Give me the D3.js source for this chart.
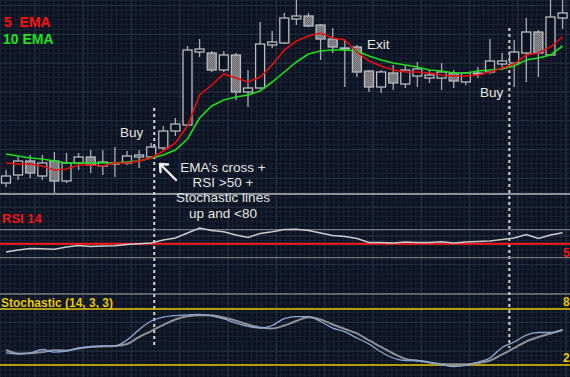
<!DOCTYPE html>
<html>
<head>
<meta charset="utf-8">
<script src="https://cdn.jsdelivr.net/npm/d3@7/dist/d3.min.js"></script>
<style>
  body { margin: 0; background: #0b1220; overflow: hidden; }
  svg { display: block; }
</style>
</head>
<body>
<svg id="chart"></svg>
<script>
// price in points, one value per bar
const candleOpen  = [17,25,39,24,39,19,37,43,34,36,37,43,43,52,69,75,148,147,130,145,108,112,155,157,181,184,175,161,152,153,129,113,127,116,124,122,122,127,118,126,128,136,137,147,168,145,182];
const candleHigh  = [30,43,45,45,48,47,47,50,50,53,49,50,57,74,82,154,161,149,149,147,130,178,169,187,200,187,176,172,160,155,130,130,135,135,138,130,137,130,128,133,161,147,160,182,170,200,200];
const candleLow   = [13,20,22,20,7,17,30,27,25,23,35,32,42,50,64,74,143,128,128,100,93,111,152,156,175,173,140,147,113,123,108,107,110,112,113,117,110,112,115,122,126,130,113,118,123,145,171];
const candleClose = [24,39,27,37,19,37,43,35,38,37,44,45,53,69,76,150,151,130,145,108,112,156,158,182,184,174,161,153,152,128,113,128,117,130,131,125,128,119,127,127,139,139,148,168,147,183,187];

const ema5  = [37,36,36,34,30,31,35,35,34,37,37,39,42,49,57,74,105,115,126,122,118,123,135,150,159,164,167,162,160,148,139,134,130,128,128,127,125,124,124,125,128,132,136,145,147,153,163];
const ema10 = [46,44,42,41,39,37,37,37,37,37,38,39,42,45,50,61,82,94,100,103,105,109,118,128,138,146,149,150,150,149,144,140,137,135,133,130,129,127,127,129,130,131,134,140,142,145,154];

const rsi14 = [38.1,41,43.1,42.7,42,45.3,47.4,46,46.7,47,48.9,49.8,51,55.3,58.1,65.3,72.4,68.9,67,62.4,58.9,64.6,67.1,70.3,70.6,68.9,65.3,61.7,60.3,57.4,51.7,51.7,51,52.4,51.7,51.7,52.9,51,52.4,53.1,53.9,56,58.1,63.1,57.4,62.4,65.7];
const rsiLevels = [70, 50, 30];

const stochMain   = [32.9,31.8,32.9,36.6,33.9,35,38.2,39.8,40.4,40.4,46.8,57.9,67.1,71.4,73,73.6,74.3,72.7,69.3,65,61.5,59.6,62.3,69.8,71.8,71.8,66.6,59.6,55.7,48.9,42.5,33.9,27.5,24.8,24.8,22.7,20.5,18.4,19.5,23.2,27.5,38.8,44.6,52.1,54.8,54.8,58];
const stochSignal = [36.1,32.3,32.5,33.9,35.9,35.5,37.7,39.3,40,40.4,42.5,50,56.4,62.9,68.8,72.2,73.3,73.3,70.9,67.4,63.4,60.2,59.1,62.3,67.1,71.1,68.8,63.4,58.6,53.8,46.3,39.3,32.3,26.6,24.6,22.7,21.1,20.8,20.8,22.1,24.8,31.3,38.2,45.2,50,53.8,57.5];
const stochLevels = [80, 20];

// signals: bar position and price where the dashed marker starts
const buySignals = [{ bar: 12.25, price: 92 }, { bar: 41.6, price: 172 }];

const noteLines = ["EMA\u2019s cross +", "RSI >50 +", "Stochastic lines", "up and <80"];

function drawChart() {
    const width = 570;
    const height = 377;
    const svg = d3.select("#chart").attr("width", width).attr("height", height);

    const x = d3.scaleLinear().domain([0, candleOpen.length - 1]).range([6, 562.6]);
    const yMain = d3.scaleLinear().domain([0, 200]).range([200, 0]);
    const yRsi = d3.scaleLinear().domain([30, 70]).range([257.7, 229.7]);
    const ySto = d3.scaleLinear().domain([20, 80]).range([365, 309]);

    const defs = svg.append("defs");
    // fine background mesh
    const mesh = defs.append("pattern").attr("id", "mesh")
        .attr("width", 4.83).attr("height", 4.8).attr("patternUnits", "userSpaceOnUse");
    mesh.append("rect").attr("width", 4.83).attr("height", 4.8).attr("fill", "#0b1220");
    mesh.append("path").attr("d", "M0,0.5H4.83M0.5,0V4.8")
        .attr("stroke", "#172133").attr("stroke-width", 1);

    const grain = defs.append("pattern").attr("id", "grain")
        .attr("width", 2).attr("height", 2).attr("patternUnits", "userSpaceOnUse");
    grain.append("rect").attr("width", 2).attr("height", 2).attr("fill", "#6f7074");
    grain.append("rect").attr("width", 1).attr("height", 1).attr("fill", "#8d8e92");
    grain.append("rect").attr("x", 1).attr("y", 1).attr("width", 1).attr("height", 1).attr("fill", "#86878b");

    defs.append("clipPath").attr("id", "mainClip")
        .append("rect").attr("width", width).attr("height", 193);

    svg.append("rect").attr("width", width).attr("height", height).attr("fill", "url(#mesh)");

    // major grid
    const grid = svg.append("g").attr("stroke", "#263043").attr("stroke-width", 1);
    grid.selectAll("line.v").data(d3.range(35, width, 48.3)).join("line")
        .attr("x1", d => d).attr("x2", d => d).attr("y1", 0).attr("y2", height);
    grid.selectAll("line.h").data(d3.range(5.6, height, 28.8)).join("line")
        .attr("x1", 0).attr("x2", width).attr("y1", d => d).attr("y2", d => d);

    // panel borders
    svg.append("line").attr("x1", 0).attr("x2", width).attr("y1", 194).attr("y2", 194)
        .attr("stroke", "#8a8f98").attr("stroke-width", 2);
    svg.append("line").attr("x1", 0).attr("x2", width).attr("y1", 294).attr("y2", 294)
        .attr("stroke", "#747a84").attr("stroke-width", 1.5);

    // dashed buy markers
    svg.append("g").selectAll("line").data(buySignals).join("line")
        .attr("x1", d => x(d.bar)).attr("x2", d => x(d.bar))
        .attr("y1", d => yMain(d.price)).attr("y2", 348)
        .attr("stroke", "#d4d4d4").attr("stroke-width", 2).attr("stroke-dasharray", "3,3");

    // candles
    const main = svg.append("g").attr("clip-path", "url(#mainClip)");
    const bars = candleOpen.map((o, i) => ({ i: i, o: o, h: candleHigh[i], l: candleLow[i], c: candleClose[i] }));

    main.append("g").selectAll("line").data(bars).join("line")
        .attr("x1", d => x(d.i)).attr("x2", d => x(d.i))
        .attr("y1", d => yMain(d.h)).attr("y2", d => yMain(d.l))
        .attr("stroke", "#a9abb0").attr("stroke-width", 1.3);

    main.append("g").selectAll("rect").data(bars).join("rect")
        .attr("x", d => x(d.i) - 4.5)
        .attr("width", 9)
        .attr("y", d => yMain(Math.max(d.o, d.c)))
        .attr("height", d => Math.max(1, Math.abs(yMain(d.o) - yMain(d.c))))
        .attr("fill", d => d.c >= d.o ? "#0b1220" : "url(#grain)")
        .attr("stroke", "#b9bbc0").attr("stroke-width", 1.3);

    // moving averages
    const lineMain = d3.line().x((d, i) => x(i)).y(d => yMain(d));
    main.append("path").datum(ema10).attr("d", lineMain)
        .attr("fill", "none").attr("stroke", "#1fdc1f").attr("stroke-width", 1.6);
    main.append("path").datum(ema5).attr("d", lineMain)
        .attr("fill", "none").attr("stroke", "#e80c0c").attr("stroke-width", 1.6);

    // legend
    svg.append("text").attr("x", 4).attr("y", 27).text("5  EMA")
        .style("white-space", "pre")
        .attr("fill", "#ff1010").attr("font-family", "Liberation Sans, Arial, sans-serif")
        .attr("font-weight", "bold").attr("font-size", 14);
    svg.append("text").attr("x", 3).attr("y", 44).text("10 EMA")
        .attr("fill", "#22e022").attr("font-family", "Liberation Sans, Arial, sans-serif")
        .attr("font-weight", "bold").attr("font-size", 14);

    // RSI panel
    svg.append("g").selectAll("line").data(rsiLevels).join("line")
        .attr("x1", 0).attr("x2", width)
        .attr("y1", d => yRsi(d)).attr("y2", d => yRsi(d))
        .attr("stroke", d => d === 50 ? "#ff1c1c" : "#8c8f95")
        .attr("stroke-width", d => d === 50 ? 2 : 1);

    const lineRsi = d3.line().x((d, i) => x(i)).y(d => yRsi(d));
    svg.append("path").datum(rsi14).attr("d", lineRsi)
        .attr("fill", "none").attr("stroke", "#c8cacf").attr("stroke-width", 1.5);

    svg.append("text").attr("x", 2).attr("y", 223).text("RSI 14")
        .attr("fill", "#f01414").attr("font-family", "Liberation Sans, Arial, sans-serif")
        .attr("font-weight", "bold").attr("font-size", 13);
    // level labels sit half outside the right edge, as on the terminal
    svg.append("text").attr("x", 563).attr("y", yRsi(50) + 13).text("50")
        .attr("fill", "#f01414").attr("font-family", "Liberation Sans, Arial, sans-serif")
        .attr("font-weight", "bold").attr("font-size", 12);

    // stochastic panel
    svg.append("g").selectAll("line").data(stochLevels).join("line")
        .attr("x1", 0).attr("x2", width)
        .attr("y1", d => ySto(d)).attr("y2", d => ySto(d))
        .attr("stroke", "#e8c800").attr("stroke-width", 1.5);

    const lineSto = d3.line().curve(d3.curveMonotoneX).x((d, i) => x(i)).y(d => ySto(d));
    svg.append("path").datum(stochSignal).attr("d", lineSto)
        .attr("fill", "none").attr("stroke", "#8f9196").attr("stroke-width", 2);
    svg.append("path").datum(stochMain).attr("d", lineSto)
        .attr("fill", "none").attr("stroke", "#8ea6d4").attr("stroke-width", 1.3);

    svg.append("text").attr("x", 1).attr("y", 307).text("Stochastic (14, 3, 3)")
        .attr("fill", "#e8c800").attr("font-family", "Liberation Sans, Arial, sans-serif")
        .attr("font-weight", "bold").attr("font-size", 12);
    svg.append("g").selectAll("text").data(stochLevels).join("text")
        .attr("x", 563).attr("y", d => ySto(d) - 3).text(d => d)
        .attr("fill", "#e8c800").attr("font-family", "Liberation Sans, Arial, sans-serif")
        .attr("font-weight", "bold").attr("font-size", 12);

    // annotations
    const note = svg.append("g").attr("fill", "#e4e4e4")
        .attr("font-family", "Liberation Sans, Arial, sans-serif").attr("font-size", 13.5);
    note.append("text").attr("x", x(buySignals[0].bar) - 11).attr("y", 137)
        .attr("text-anchor", "end").text("Buy");
    note.append("text").attr("x", x(buySignals[1].bar) - 6).attr("y", 97)
        .attr("text-anchor", "end").text("Buy");
    note.append("text").attr("x", x(30) - 2).attr("y", 49).text("Exit");
    note.selectAll("text.n").data(noteLines).join("text")
        .attr("x", 223).attr("y", (d, i) => 172 + i * 15.2)
        .attr("text-anchor", "middle").text(d => d);

    // arrow pointing at the cross
    svg.append("path")
        .attr("d", "M176,180L160,164M160,164L160.5,172M160,164L168,164.5")
        .attr("fill", "none").attr("stroke", "#f4f4f4").attr("stroke-width", 2.4)
        .attr("stroke-linecap", "round");
}

drawChart();
</script>
</body>
</html>
